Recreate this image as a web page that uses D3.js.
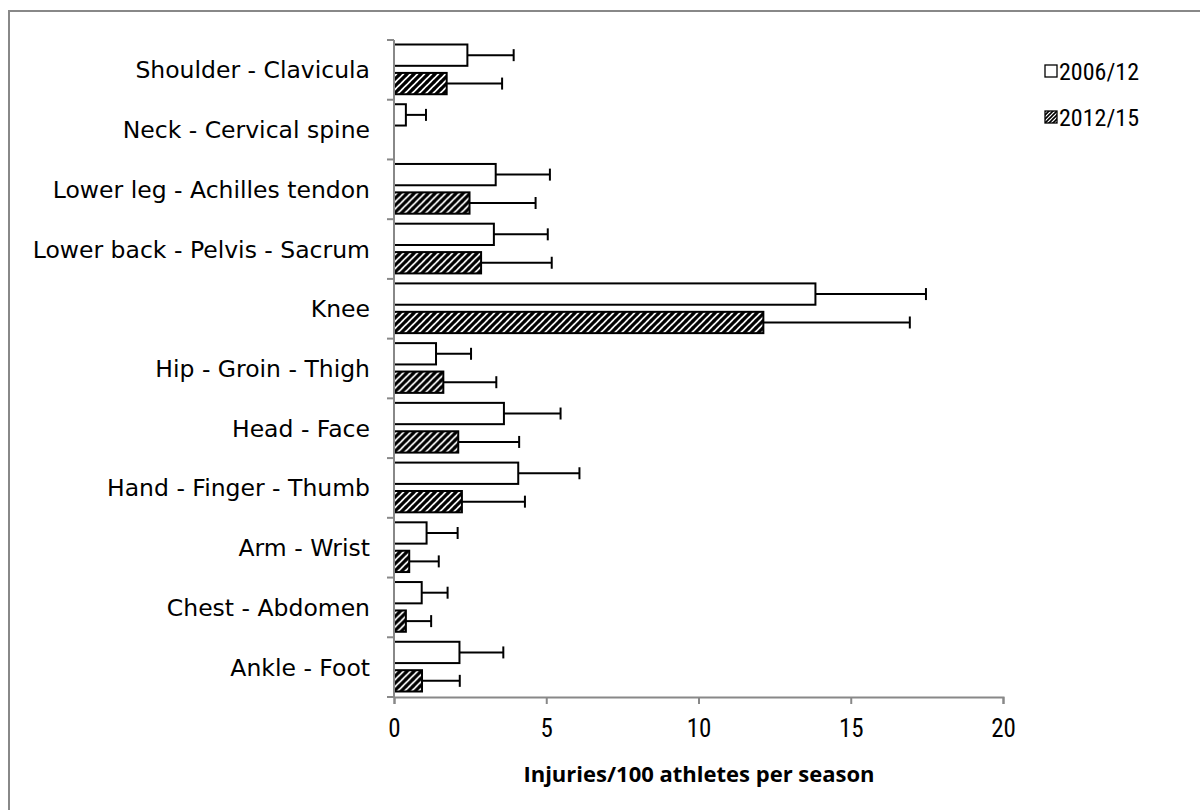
<!DOCTYPE html>
<html>
<head>
<meta charset="utf-8">
<script src="https://cdn.jsdelivr.net/npm/d3@7"></script>
<style>
  html, body { margin: 0; padding: 0; background: #fff; }
  svg { display: block; }
</style>
</head>
<body>
<svg id="chart" width="1200" height="810"></svg>
<script>
// Categories listed top to bottom
const categories = [
  "Shoulder - Clavicula",
  "Neck - Cervical spine",
  "Lower leg - Achilles tendon",
  "Lower back - Pelvis - Sacrum",
  "Knee",
  "Hip - Groin - Thigh",
  "Head - Face",
  "Hand - Finger - Thumb",
  "Arm - Wrist",
  "Chest - Abdomen",
  "Ankle - Foot"
];
const seriesNames = ["2006/12", "2012/15"];
const values2006 = [2.41, 0.39, 3.34, 3.28, 13.84, 1.38, 3.61, 4.08, 1.07, 0.91, 2.15];
const errors2006 = [3.93, 1.05, 5.12, 5.05, 17.47, 2.53, 5.47, 6.09, 2.09, 1.76, 3.59];
const values2012 = [1.73, 0, 2.48, 2.86, 12.13, 1.62, 2.11, 2.23, 0.50, 0.39, 0.92];
const errors2012 = [3.55, 0, 4.65, 5.18, 16.94, 3.36, 4.11, 4.30, 1.47, 1.22, 2.16];
const xTicks = [0, 5, 10, 15, 20];
const xTitle = "Injuries/100 athletes per season";

(function () {
const narrow = "'Liberation Sans Narrow', 'Roboto Condensed', 'DejaVu Sans Condensed', Roboto, sans-serif";
const svg = d3.select("#chart");
const defs = svg.append("defs");
const pat = defs.append("pattern")
  .attr("id", "hatch")
  .attr("patternUnits", "userSpaceOnUse")
  .attr("width", 7).attr("height", 7);
pat.append("rect").attr("width", 7).attr("height", 7).attr("fill", "#fff");
pat.append("path")
  .attr("d", "M-1,1 l2,-2 M0,7 l7,-7 M6,8 l2,-2")
  .attr("stroke", "#000").attr("stroke-width", 3.2);

const patS = defs.append("pattern")
  .attr("id", "hatchS")
  .attr("patternUnits", "userSpaceOnUse")
  .attr("width", 4).attr("height", 4);
patS.append("rect").attr("width", 4).attr("height", 4).attr("fill", "#fff");
patS.append("path")
  .attr("d", "M-1,1 l2,-2 M0,4 l4,-4 M3,5 l2,-2")
  .attr("stroke", "#000").attr("stroke-width", 1.6);

// outer frame
svg.append("rect")
  .attr("x", 9).attr("y", 11).attr("width", 1220).attr("height", 820)
  .attr("fill", "none").attr("stroke", "#888").attr("stroke-width", 2);

const pL = 394, pR = 1003, pT = 40, pB = 697;
const x = d3.scaleLinear().domain([0, 20]).range([pL, pR]);
const y = d3.scaleBand().domain(categories).range([pT, pB]).paddingInner(0).paddingOuter(0);
const sub = d3.scaleBand().domain(seriesNames).range([4.5, y.bandwidth() - 5.5]).paddingInner(0.25);

const data = categories.map((c, i) => ({
  cat: c,
  bars: [
    { s: seriesNames[0], v: values2006[i], e: errors2006[i] },
    { s: seriesNames[1], v: values2012[i], e: errors2012[i] }
  ]
}));

const g = svg.append("g");
const groups = g.selectAll("g.cat").data(data).join("g")
  .attr("transform", d => `translate(0,${y(d.cat)})`);

const bars = groups.selectAll("g.bar").data(d => d.bars.filter(b => b.v > 0)).join("g");
bars.append("line")
  .attr("x1", d => x(d.v)).attr("x2", d => x(d.e))
  .attr("y1", d => sub(d.s) + sub.bandwidth() / 2)
  .attr("y2", d => sub(d.s) + sub.bandwidth() / 2)
  .attr("stroke", "#000").attr("stroke-width", 2);
bars.append("line")
  .attr("x1", d => x(d.e)).attr("x2", d => x(d.e))
  .attr("y1", d => sub(d.s) + sub.bandwidth() / 2 - 6)
  .attr("y2", d => sub(d.s) + sub.bandwidth() / 2 + 6)
  .attr("stroke", "#000").attr("stroke-width", 2);
bars.append("rect")
  .attr("x", x(0))
  .attr("y", d => sub(d.s))
  .attr("width", d => x(d.v) - x(0))
  .attr("height", sub.bandwidth())
  .attr("fill", d => d.s === seriesNames[0] ? "#fff" : "url(#hatch)")
  .attr("stroke", "#000").attr("stroke-width", 2);

// Y axis (ticks at category boundaries)
const yAxisG = svg.append("g");
yAxisG.append("line").attr("x1", pL).attr("x2", pL).attr("y1", pT).attr("y2", pB)
  .attr("stroke", "#888").attr("stroke-width", 2);
const bounds = categories.map(c => y(c)).concat([pB]);
yAxisG.selectAll("line.tk").data(bounds).join("line")
  .attr("class", "tk")
  .attr("x1", pL - 7).attr("x2", pL).attr("y1", d => d).attr("y2", d => d)
  .attr("stroke", "#888").attr("stroke-width", 2);
yAxisG.selectAll("text").data(categories).join("text")
  .attr("x", 370).attr("y", d => y(d) + y.bandwidth() / 2)
  .attr("dy", "0.36em").attr("text-anchor", "end")
  .attr("font-family", "DejaVu Sans").attr("font-size", 23.5).attr("fill", "#000")
  .text(d => d);

// X axis
const xAxis = d3.axisBottom(x).tickValues(xTicks).tickSize(7).tickFormat(d3.format("d"));
const xg = svg.append("g").attr("transform", `translate(0,${pB})`).call(xAxis);
xg.select(".domain").attr("stroke", "#888").attr("stroke-width", 2);
xg.selectAll(".tick line").attr("stroke", "#888").attr("stroke-width", 2);
xg.selectAll(".tick text").attr("font-family", narrow).attr("font-size", 25)
  .attr("fill", "#000").attr("dy", "0").attr("y", 40);

svg.append("text").attr("x", 699).attr("y", 782).attr("text-anchor", "middle")
  .attr("font-family", "Open Sans").attr("font-weight", "bold").attr("font-size", 22)
  .text(xTitle);

// legend
const leg = svg.append("g");
seriesNames.forEach((s, i) => {
  const ly = 71 + i * 46;
  const t = leg.append("text").attr("x", 1139).attr("y", ly).attr("dy", "0.36em")
    .attr("text-anchor", "end")
    .attr("font-family", narrow).attr("font-size", 24).text(s);
  const w = t.node().getComputedTextLength();
  leg.append("rect").attr("x", 1139 - w - 14).attr("y", ly - 6).attr("width", 12).attr("height", 12)
    .attr("fill", i === 0 ? "#fff" : "url(#hatchS)").attr("stroke", "#000").attr("stroke-width", 1.3);
});
})();
</script>
</body>
</html>
